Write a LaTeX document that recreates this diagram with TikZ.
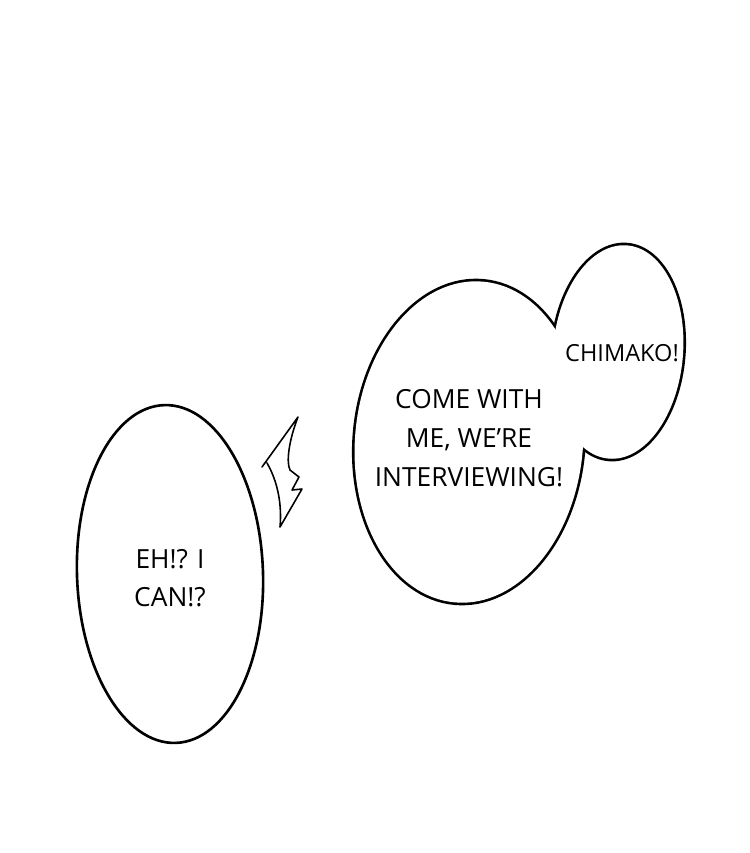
\documentclass[tikz,border=0pt]{standalone}
\usepackage{fontspec}
\setmainfont{Open Sans}
\begin{document}
\begin{tikzpicture}[x=0.02cm, y=-0.02cm, line join=round, line cap=round,
	font=\fontsize{15}{22}\selectfont,
	bubble/.style={line width=3pt},
	talk/.style={align=center, inner sep=0pt}]
	\def\lw{1.5pt} % Nét viền
	\useasboundingbox (0,0) rectangle (750,853);
	% Bóng thoại trái
	\draw[line width=\lw, rotate around={2:(170,574)}] (170,574) ellipse [x radius=93, y radius=169];
	\node[talk] (left) at (170,578) {EH!? I\\CAN!?};
	% Hai bóng thoại phải (nét đôi rồi tô trắng)
	\draw[bubble, rotate around={-5:(469,442)}] (469,442) ellipse [x radius=114, y radius=161];
	\draw[bubble, rotate around={-5:(618,352)}] (618,352) ellipse [x radius=65, y radius=107];
	\fill[white, rotate around={-5:(469,442)}] (469,442) ellipse [x radius=114, y radius=161];
	\fill[white, rotate around={-5:(618,352)}] (618,352) ellipse [x radius=65, y radius=107];
	\node[talk] (big) at (469,438) {COME WITH\\ME, WE'RE\\INTERVIEWING!};
	\node[talk, font=\fontsize{13.4}{20}\selectfont] (small) at (622,353) {CHIMAKO!};
	% Tia nhọn
	\draw[line width=0.9pt] (262,467) -- (298,417) .. controls (289,440) and (286,462) .. (290,470)
		-- (299,477) -- (292,490) -- (302,489) -- (280,527)
		.. controls (282,505) and (278,482) .. (267,463);
\end{tikzpicture}
\end{document}
